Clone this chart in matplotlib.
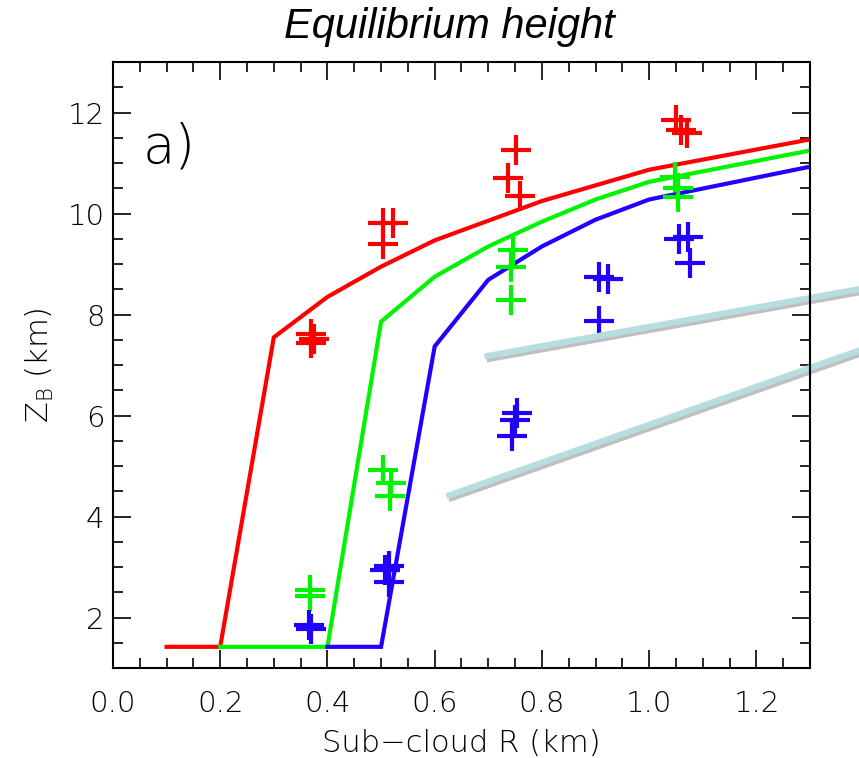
import numpy as np
import matplotlib
matplotlib.use("Agg")
import matplotlib.pyplot as plt
import matplotlib.patheffects as pe
from matplotlib.ticker import MultipleLocator

# model curves: equilibrium height vs sub-cloud radius
r_red = [0.1, 0.2, 0.3, 0.4, 0.5, 0.6, 0.8, 1.0, 1.3]
z_red = [1.42, 1.42, 7.55, 8.35, 8.95, 9.47, 10.25, 10.87, 11.47]
r_green = [0.2, 0.4, 0.5, 0.6, 0.7, 0.8, 0.9, 1.0, 1.3]
z_green = [1.42, 1.42, 7.86, 8.75, 9.35, 9.84, 10.28, 10.63, 11.25]
r_blue = [0.4, 0.5, 0.6, 0.7, 0.8, 0.9, 1.0, 1.3]
z_blue = [1.42, 1.42, 7.37, 8.69, 9.35, 9.88, 10.28, 10.93]

# simulated clouds (plus markers)
xr = [0.37, 0.375, 0.37, 0.504, 0.522, 0.504, 0.752, 0.737, 0.759, 1.05, 1.06, 1.07]
yr = [7.62, 7.52, 7.44, 9.82, 9.82, 9.40, 11.27, 10.71, 10.34, 11.85, 11.65, 11.60]
xg = [0.368, 0.368, 0.504, 0.518, 0.516, 0.746, 0.742, 0.742, 1.048, 1.053, 1.053]
yg = [2.55, 2.42, 4.93, 4.67, 4.40, 9.27, 8.95, 8.28, 10.73, 10.51, 10.32]
xb = [0.365, 0.37, 0.515, 0.508, 0.515, 0.754, 0.750, 0.744, 0.907, 0.924, 0.907, 1.056, 1.072, 1.076]
yb = [1.86, 1.78, 3.03, 2.95, 2.71, 6.06, 5.92, 5.60, 8.75, 8.71, 7.88, 9.49, 9.53, 9.03]

RED, GREEN, BLUE = "#ff0000", "#00f400", "#2200ff"

fig = plt.figure(figsize=(8.59, 7.58), dpi=100)
ax = fig.add_axes([0.1315, 0.1187, 0.8115, 0.7993])

for x, y, c in [(r_red, z_red, RED), (r_green, z_green, GREEN), (r_blue, z_blue, BLUE)]:
    ax.plot(x, y, color=c, lw=3, solid_joinstyle="miter")
for x, y, c in [(xr, yr, RED), (xg, yg, GREEN), (xb, yb, BLUE)]:
    ax.plot(x, y, "+", color=c, ms=22, mew=3, ls="none")

ax.set_xlim(0, 1.3)
ax.set_ylim(1, 13)
ax.xaxis.set_major_locator(MultipleLocator(0.2))
ax.xaxis.set_minor_locator(MultipleLocator(0.05))
ax.yaxis.set_major_locator(MultipleLocator(2))
ax.yaxis.set_minor_locator(MultipleLocator(0.5))
ax.xaxis.set_major_formatter(matplotlib.ticker.FormatStrFormatter("%.1f"))
ax.tick_params(which="both", direction="in", top=True, right=True, width=1.2)
ax.tick_params(which="major", length=13, labelsize=21)
ax.tick_params(which="minor", length=7)
ax.tick_params(axis="x", pad=16)
ax.tick_params(axis="y", pad=6)
for lab in ax.get_xticklabels() + ax.get_yticklabels():
    lab.set_fontweight("light")
for s in ax.spines.values():
    s.set_linewidth(1.5)

ax.set_xlabel("Sub\u2212cloud R (km)", fontsize=22, fontweight="light", labelpad=8)
ax.set_ylabel(r"Z$_\mathregular{B}$ (km)", fontsize=22, fontweight="light", labelpad=8)
ax.text(0.105, 11.3, "a)", fontsize=38, fontweight="light", ha="center", va="center")

fig.text(0.523, 0.965, "Equilibrium height", fontsize=30, style="italic",
         family="Liberation Sans", ha="center", va="center")

# overlaid pointer lines from the neighbouring panel
shadow = [pe.SimpleLineShadow(offset=(1.5, -2), shadow_color="gray", alpha=0.5), pe.Normal()]
ax.plot([0.693, 1.40], [7.17, 8.52], color="#b8dde0", lw=4.5, clip_on=False,
        path_effects=shadow, solid_capstyle="butt")
ax.plot([0.622, 1.40], [4.40, 7.32], color="#b8dde0", lw=4.5, clip_on=False,
        path_effects=shadow, solid_capstyle="butt")

fig.savefig("out.png", dpi=100)
